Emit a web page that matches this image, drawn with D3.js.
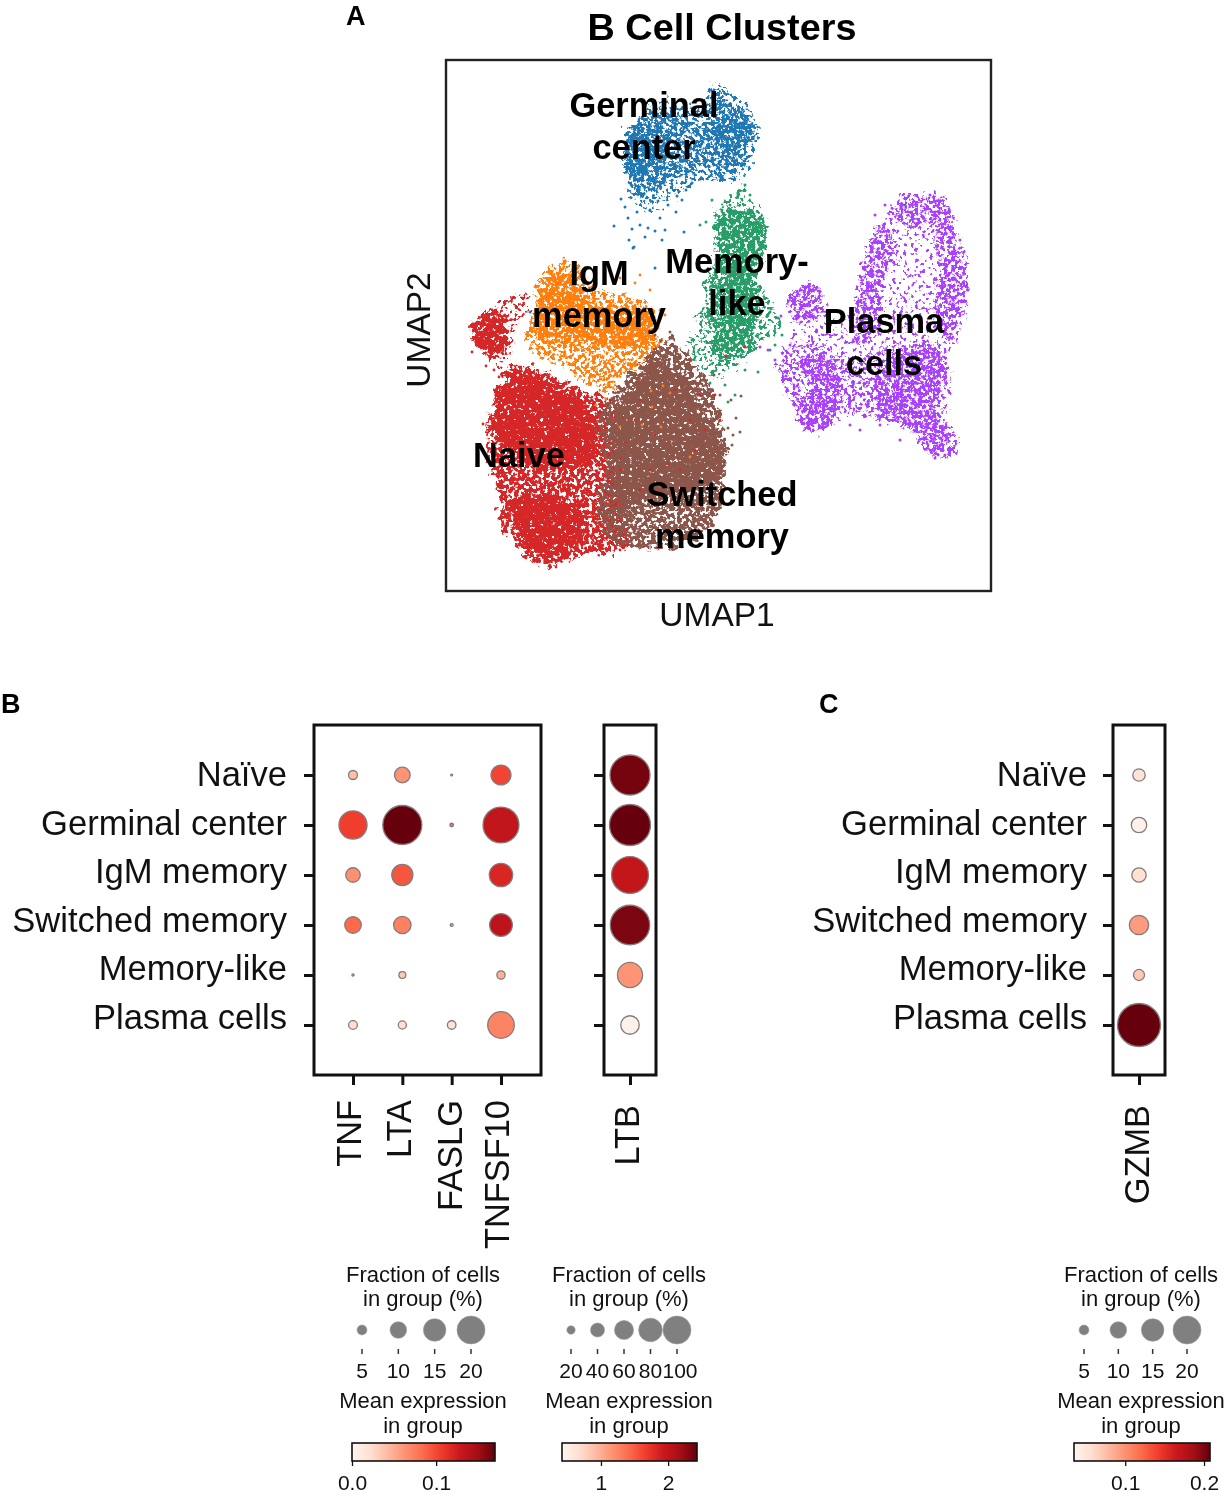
<!DOCTYPE html>
<html><head><meta charset="utf-8">
<script src="https://cdn.jsdelivr.net/npm/d3@7"></script>
<style>
html,body{margin:0;padding:0;background:#fff}
svg{display:block;filter:blur(.35px)}
text{font-family:"Liberation Sans",Arial,sans-serif;fill:#111}
</style></head><body><svg id="c" width="1225" height="1494"></svg>
<script>
// ---------- UMAP panel: cluster regions and outlying cells (arbitrary UMAP units)
const blueHalo=[[266,507],[302,483],[312,461],[297,413],[254,411],[234,396],[194,382],[181,401],[179,441],[186,466],[214,489],[254,486]];
const blueLeft=[[181,460],[194,474],[212,483],[252,466],[255,425],[223,410],[194,396],[182,410],[179,424],[181,442]];
const blueRight=[[267,506],[280,492],[298,481],[310,460],[301,442],[294,421],[273,414],[258,428],[254,449],[258,470],[265,492]];
const blueCoreLeft=[[184,456],[204,466],[224,456],[219,431],[194,416],[179,426]];
const blueCoreRight=[[289,473],[309,461],[299,446],[279,441],[269,466]];
const bluePoints=[[168,365],[183,351],[187,343],[209,360],[219,361],[179,384],[191,379],[204,381],[214,373],[222,386],[236,391],[240,401],[238,359],[194,366],[199,354],[182,373],[202,363],[230,379],[246,408],[216,351],[188,344],[209,323],[84,279],[459,386],[231,395],[175,392],[212,390],[186,362]];
const greenOuter=[[299,409],[304,386],[317,381],[319,346],[309,311],[329,286],[332,261],[314,246],[294,226],[276,213],[254,223],[244,246],[249,271],[259,291],[266,321],[269,351],[266,376],[284,396]];
const greenCoreTop=[[272,373],[289,383],[316,376],[317,346],[306,306],[299,271],[276,271],[276,296],[274,331],[268,356]];
const greenBridge=[[266,321],[304,321],[309,266],[264,266]];
const greenCoreLow=[[274,266],[299,271],[309,251],[299,236],[279,231],[266,246]];
const greenPoints=[[299,406],[304,396],[292,396],[284,386],[276,381],[260,369],[254,366],[266,391],[329,246],[324,241],[312,219],[279,206],[289,196],[282,189],[299,221],[324,279],[332,273],[336,256],[264,208],[246,251]];
const orangeOuter=[[109,326],[129,329],[144,309],[169,296],[199,291],[209,266],[214,246],[204,231],[179,216],[159,196],[144,206],[114,226],[84,241],[82,261],[89,291],[94,311]];
const orangeCore=[[99,311],[114,321],[134,301],[154,286],[204,281],[209,246],[154,246],[124,251],[94,251]];
const orangePoints=[[174,313],[189,308],[214,281],[219,276],[204,301],[194,316],[196,166],[205,200],[217,205],[224,198],[206,184],[244,134],[215,164],[174,164],[160,192],[150,186]];
const redSmallOuter=[[44,281],[59,294],[79,295],[81,276],[69,261],[64,236],[54,221],[39,236],[27,251],[26,271]];
const redSmallCore=[[34,276],[49,279],[61,266],[62,246],[49,236],[32,243],[26,261]];
const redOuter=[[64,223],[84,224],[124,206],[170,186],[185,161],[175,121],[175,81],[184,51],[174,41],[139,36],[104,26],[84,31],[59,61],[52,101],[42,141],[44,171],[52,201]];
const redCoreTop=[[64,216],[84,219],[124,196],[149,171],[144,131],[114,121],[74,131],[49,161],[52,196]];
const redCoreLow=[[64,91],[104,96],[139,71],[124,41],[94,36],[74,56]];
const redPoints=[[37,167],[46,170],[26,239],[53,214],[40,225],[48,221],[80,33],[110,24],[144,43],[179,46],[174,41],[194,191],[209,156],[164,191],[204,121],[244,171],[259,161],[234,121],[194,101],[219,91],[174,121],[254,196],[269,196],[274,171],[229,201],[189,171],[299,244],[280,235],[222,127],[249,141]];
const brownOuter=[[219,254],[234,246],[249,226],[264,206],[272,181],[279,151],[279,121],[276,86],[259,61],[234,46],[194,43],[164,51],[151,81],[159,121],[154,151],[154,181],[174,206],[204,236]];
const brownCore=[[209,231],[244,206],[259,171],[276,151],[274,111],[244,101],[204,91],[174,81],[169,121],[169,171],[189,206]];
const brownPoints=[[268,216],[274,196],[285,191],[290,173],[287,156],[294,159],[209,256],[224,259],[282,163],[295,195],[286,146],[280,140]];
const plasmaOuter=[[459,396],[499,393],[512,361],[521,306],[516,271],[499,216],[494,181],[512,159],[509,136],[479,141],[459,171],[394,176],[369,159],[354,181],[344,206],[329,221],[344,261],[344,296],[364,308],[376,296],[389,271],[409,281],[414,321],[434,366]];
const plasmaBody=[[334,231],[364,251],[404,231],[444,246],[494,246],[504,211],[489,161],[459,166],[404,176],[369,161],[349,181]];
const plasmaArm=[[424,351],[439,366],[449,341],[434,301],[434,271],[419,246],[409,251],[412,291],[416,321]];
const plasmaTop=[[449,391],[469,396],[499,391],[504,366],[484,366],[459,369],[444,376]];
const plasmaRight=[[499,376],[514,341],[521,301],[514,266],[499,251],[489,281],[492,321],[489,356]];
const plasmaBlobLeft=[[344,296],[366,306],[379,281],[364,266],[349,271]];
const plasmaBlobMid=[[354,226],[374,236],[394,216],[392,191],[379,161],[359,161],[354,186],[369,206]];
const plasmaBlobRight=[[434,221],[484,246],[499,221],[489,181],[504,161],[509,139],[484,136],[464,161],[434,176]];
const plasmaPoints=[[329,231],[344,246],[322,241],[314,244],[414,161],[434,166],[454,151],[404,166],[489,133],[499,136],[429,376],[439,386],[484,396],[514,351],[522,301],[494,146],[335,275],[340,215]];
const clusterNames=[["Germinal","center"],["IgM","memory"],["Memory-","like"],["Plasma","cells"],["Naive"],["Switched","memory"]];
const clusterLabelU=[198,153,291,438,73,276];
const clusterLabelV=[474,306,318,258,124,85];

// ---------- dot plots
const categories=["Naïve","Germinal center","IgM memory","Switched memory","Memory-like","Plasma cells"];
const genesLeft=["TNF","LTA","FASLG","TNFSF10"];
const fracTNF=[3.1,14.2,5.9,7.0,0.5,3.0];
const fracLTA=[6.5,22,9.7,7.5,2.2,2.7];
const fracFASLG=[0.4,0.9,0,0.7,0,2.9];
const fracTNFSF10=[9,19.7,11.1,10.7,2.8,13.2];
const exprTNF=[0.04,0.105,0.065,0.085,0.05,0.022];
const exprLTA=[0.063,0.17,0.094,0.073,0.034,0.02];
const exprFASLG=[0.05,0.08,0,0.05,0,0.017];
const exprTNFSF10=[0.102,0.133,0.119,0.136,0.048,0.071];
const fracLTB=[96.8,100,87,95,52,34.6];
const exprLTB=[2.37,2.43,1.99,2.35,1.16,0.48];
const fracGZMB=[4.2,5.6,5.1,7.6,3.6,22];
const exprGZMB=[0.052,0.040,0.056,0.095,0.070,0.208];
const redsStops=["#fff5f0","#fee0d2","#fcbba1","#fc9272","#fb6a4a","#ef3b2c","#cb181d","#a50f15","#67000d"];
const legendFracSmall=[5,10,15,20];
const legendFracLarge=[20,40,60,80,100];
const ticksExprLeft=[0.0,0.1];
const ticksExprLTB=[1,2];
const ticksExprGZMB=[0.1,0.2];

const svg=d3.select("#c");
const defs=svg.append("defs");
const C={blue:"#1f77b4",orange:"#ff7f0e",green:"#279e68",red:"#d62728",brown:"#8c564b",purple:"#aa40fc"};

// grainy fill so the cluster regions read as cell clouds
function grain(id,seed,slope,offset){
  const f=defs.append("filter").attr("id",id).attr("filterUnits","userSpaceOnUse")
    .attr("x",446).attr("y",60).attr("width",545).attr("height",531)
    .attr("color-interpolation-filters","sRGB");
  f.append("feTurbulence").attr("type","fractalNoise").attr("baseFrequency",0.13).attr("numOctaves",2).attr("seed",seed+50).attr("result","w");
  f.append("feDisplacementMap").attr("in","SourceGraphic").attr("in2","w").attr("scale",20).attr("xChannelSelector","R").attr("yChannelSelector","G").attr("result","d");
  f.append("feTurbulence").attr("type","fractalNoise").attr("baseFrequency",0.27).attr("numOctaves",2).attr("seed",seed).attr("result","n");
  f.append("feColorMatrix").attr("in","n").attr("type","matrix").attr("values",`0 0 0 0 0  0 0 0 0 0  0 0 0 0 0  ${slope} 0 0 0 ${offset}`).attr("result","m");
  f.append("feComposite").attr("in","d").attr("in2","m").attr("operator","in");
}
const DENSE=[14,-4.6],MID=[14,-5.6],LOOSE=[14,-6.5],SPARSE=[14,-7.4],FAINT=[14,-8.3];

// ---------- UMAP
const ux=d3.scaleLinear().domain([0,545]).range([446,991]);
const uy=d3.scaleLinear().domain([0,531]).range([591,60]);
const area=d3.line().x(d=>ux(d[0])).y(d=>uy(d[1])).curve(d3.curveCatmullRomClosed.alpha(.5));
const umap=svg.append("g");
let seed=3;
function cluster(color,layers,points){
  const g=umap.append("g");
  layers.forEach(([polys,dens])=>{
    const id="g"+(seed++);
    grain(id,seed*7,dens[0],dens[1]);
    g.append("g").attr("filter",`url(#${id})`).selectAll("path").data(polys).join("path").attr("d",area).attr("fill",color);
  });
  g.append("g").selectAll("circle").data(points).join("circle")
    .attr("cx",d=>ux(d[0])).attr("cy",d=>uy(d[1])).attr("r",1.5).attr("fill",color);
}
cluster(C.blue,[[[blueHalo],SPARSE],[[blueLeft,blueRight],LOOSE],[[blueCoreLeft,blueCoreRight],LOOSE]],bluePoints);
cluster(C.green,[[[greenOuter],SPARSE],[[greenBridge],LOOSE],[[greenCoreTop,greenCoreLow],MID]],greenPoints);
cluster(C.purple,[[[plasmaOuter],FAINT],[[plasmaBody],SPARSE],[[plasmaArm,plasmaTop,plasmaRight,plasmaBlobLeft,plasmaBlobMid,plasmaBlobRight],LOOSE]],plasmaPoints);
cluster(C.orange,[[[orangeOuter],LOOSE],[[orangeCore],MID]],[]);
cluster(C.red,[[[redSmallOuter],SPARSE],[[redOuter],MID],[[redCoreTop,redCoreLow,redSmallCore],DENSE]],[]);
cluster(C.brown,[[[brownOuter],MID],[[brownCore],DENSE]],brownPoints);
umap.append("g").selectAll("circle").data(redPoints).join("circle").attr("cx",d=>ux(d[0])).attr("cy",d=>uy(d[1])).attr("r",1.4).attr("fill",C.red);
umap.append("g").selectAll("circle").data(orangePoints).join("circle").attr("cx",d=>ux(d[0])).attr("cy",d=>uy(d[1])).attr("r",1.4).attr("fill",C.orange);

svg.append("rect").attr("x",446).attr("y",60).attr("width",545).attr("height",531).attr("fill","none").attr("stroke","#222").attr("stroke-width",2.4);
clusterNames.forEach((lines,i)=>{
  lines.forEach((t,j)=>svg.append("text").attr("x",ux(clusterLabelU[i])).attr("y",uy(clusterLabelV[i])+j*42)
    .attr("text-anchor","middle").attr("font-size",34.4).attr("font-weight","bold").style("fill","#000").text(t));
});
svg.append("text").attr("x",722).attr("y",40).attr("text-anchor","middle").attr("font-size",37.8).attr("font-weight","bold").style("fill","#000").text("B Cell Clusters");
svg.append("text").attr("x",717).attr("y",626).attr("text-anchor","middle").attr("font-size",33.5).text("UMAP1");
svg.append("text").attr("transform","translate(430,330) rotate(-90)").attr("text-anchor","middle").attr("font-size",33.5).text("UMAP2");

[["A",346,25],["B",1,713],["C",819,713]].forEach(([t,x,y])=>svg.append("text").attr("x",x).attr("y",y).attr("font-size",27).attr("font-weight","bold").style("fill","#000").text(t));

// ---------- dot panels
const rowY=d3.scalePoint().domain(categories).range([775,1025]);
const labelY=d3.scalePoint().domain(categories).range([775,1018]);
const redsFor=(lo,hi)=>d3.scaleLinear().domain(redsStops.map((_,i)=>lo+(hi-lo)*i/(redsStops.length-1))).range(redsStops).clamp(true);

function dotPanel({genes,fracs,exprs,x0,x1,range,color,dia,labelRight,geneX}){
  const gx=d3.scalePoint().domain(genes).range(range);
  const g=svg.append("g");
  g.append("rect").attr("x",x0).attr("y",725).attr("width",x1-x0).attr("height",350).attr("fill","none").attr("stroke","#111").attr("stroke-width",3);
  const left=g.append("g").attr("transform",`translate(${x0},0)`).call(d3.axisLeft(rowY).tickSize(10).tickFormat(""));
  left.select(".domain").remove();
  left.selectAll("line").attr("stroke","#111").attr("stroke-width",3);
  const bot=g.append("g").attr("transform","translate(0,1075)").call(d3.axisBottom(gx).tickSize(10).tickFormat(""));
  bot.select(".domain").remove();
  bot.selectAll("line").attr("stroke","#111").attr("stroke-width",3);
  genes.forEach((gene,k)=>{
    const rows=categories.map((c,i)=>({c,f:fracs[k][i],e:exprs[k][i]})).filter(d=>d.f>0);
    g.append("g").selectAll("circle").data(rows).join("circle")
      .attr("cx",gx(gene)).attr("cy",d=>rowY(d.c)).attr("r",d=>dia(d.f)/2)
      .attr("fill",d=>color(d.e)).attr("stroke","#857b7b").attr("stroke-width",1.3);
    g.append("text").attr("transform",`translate(${geneX[k]},${genes.length>1?1100:1105}) rotate(-90)`).attr("text-anchor","end").attr("font-size",34.4).text(gene);
  });
  if(labelRight) categories.forEach(c=>g.append("text").attr("x",labelRight).attr("y",labelY(c)+11).attr("text-anchor","end").attr("font-size",34.6).text(c));
}
const diaSmall=d3.scalePow().exponent(.75).domain([0,22]).range([0,39]);
const diaLTB=d3.scalePow().exponent(.75).domain([0,100]).range([0,41]);
const diaGZMB=d3.scalePow().exponent(.75).domain([0,22]).range([0,43]);
dotPanel({genes:genesLeft,fracs:[fracTNF,fracLTA,fracFASLG,fracTNFSF10],exprs:[exprTNF,exprLTA,exprFASLG,exprTNFSF10],x0:314,x1:541,range:[353,501],color:redsFor(0,0.17),dia:diaSmall,labelRight:287,geneX:[361,411,462,509]});
dotPanel({genes:["LTB"],fracs:[fracLTB],exprs:[exprLTB],x0:604,x1:656,range:[630,630],color:redsFor(0.42,2.43),dia:diaLTB,geneX:[639]});
dotPanel({genes:["GZMB"],fracs:[fracGZMB],exprs:[exprGZMB],x0:1113,x1:1165,range:[1139,1139],color:redsFor(0.035,0.208),dia:diaGZMB,labelRight:1087,geneX:[1149]});

// ---------- legends
let gid=0;
function legend({values,range,dMax,cx,barX,domain,ticks,fmt}){
  const g=svg.append("g");
  const two=(a,b,y1,y2)=>{
    g.append("text").attr("x",cx).attr("y",y1).attr("text-anchor","middle").attr("font-size",22).text(a);
    g.append("text").attr("x",cx).attr("y",y2).attr("text-anchor","middle").attr("font-size",22).text(b);
  };
  two("Fraction of cells","in group (%)",1282,1306);
  two("Mean expression","in group",1408,1433);
  const lx=d3.scalePoint().domain(values).range(range);
  const vmax=values[values.length-1];
  const ld=d3.scalePow().exponent(.75).domain([0,vmax]).range([0,dMax]);
  values.forEach(v=>{
    g.append("circle").attr("cx",lx(v)).attr("cy",1330).attr("r",ld(v)/2).attr("fill","#808080").attr("stroke","#9a9a9a").attr("stroke-width",.6);
    g.append("line").attr("x1",lx(v)).attr("x2",lx(v)).attr("y1",1349).attr("y2",1354).attr("stroke","#333").attr("stroke-width",1.5);
    g.append("text").attr("x",lx(v)+(v===100?3:0)).attr("y",1378).attr("text-anchor","middle").attr("font-size",21).text(v);
  });
  const id="cb"+(gid++);
  const lg=defs.append("linearGradient").attr("id",id);
  redsStops.forEach((s,i)=>lg.append("stop").attr("offset",i/(redsStops.length-1)).attr("stop-color",s));
  const bx=d3.scaleLinear().domain(domain).range(barX);
  g.append("rect").attr("x",barX[0]).attr("y",1443).attr("width",barX[1]-barX[0]).attr("height",18).attr("fill",`url(#${id})`).attr("stroke","#111").attr("stroke-width",1.6);
  const ax=g.append("g").attr("transform","translate(0,1461)").call(d3.axisBottom(bx).tickValues(ticks).tickSize(5).tickFormat(d3.format(fmt)));
  ax.select(".domain").remove();
  ax.selectAll("line").attr("stroke","#111").attr("stroke-width",1.3);
  ax.selectAll("text").attr("font-size",21).attr("dy",0).attr("y",28.5).attr("font-family",null);
}
legend({values:legendFracSmall,range:[362,471],dMax:28,cx:423,barX:[352,495],domain:[0,0.17],ticks:ticksExprLeft,fmt:".1f"});
legend({values:legendFracLarge,range:[571,677],dMax:28,cx:629,barX:[562,697],domain:[0.42,2.43],ticks:ticksExprLTB,fmt:"d"});
legend({values:legendFracSmall,range:[1084,1187],dMax:28,cx:1141,barX:[1074,1210],domain:[0.035,0.2076],ticks:ticksExprGZMB,fmt:".1f"});
</script></body></html>
